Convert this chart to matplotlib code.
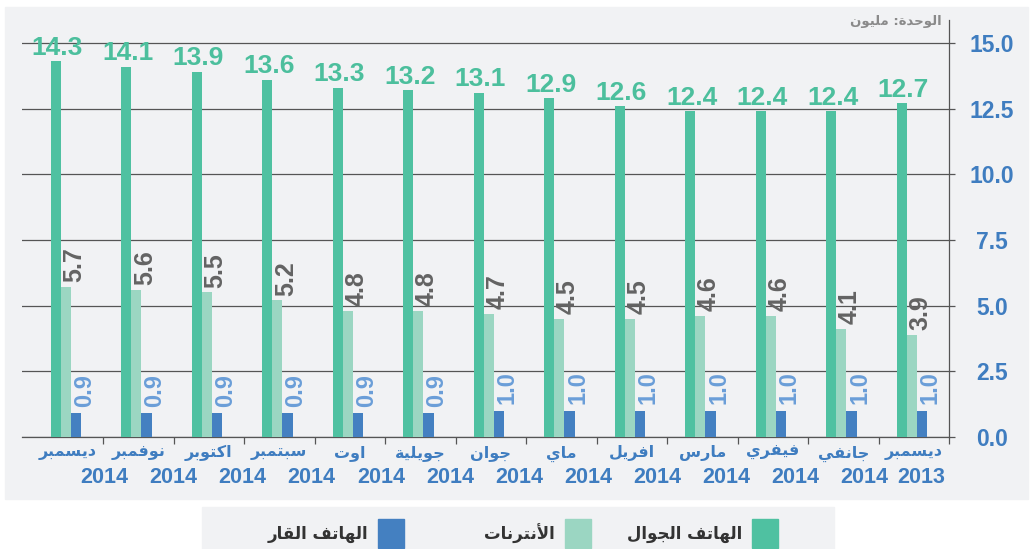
import numpy as np
import matplotlib
matplotlib.use("Agg")
import matplotlib.pyplot as plt
from matplotlib.patches import Rectangle

# data (right-to-left time order drawn left to right)
months = ["ديسمبر", "نوفمبر", "اكتوبر", "سبتمبر", "اوت", "جويلية", "جوان",
          "ماي", "افريل", "مارس", "فيفري", "جانفي", "ديسمبر"]
years = ["2014"] * 12 + ["2013"]
mobile = [14.3, 14.1, 13.9, 13.6, 13.3, 13.2, 13.1, 12.9, 12.6, 12.4, 12.4, 12.4, 12.7]
internet = [5.7, 5.6, 5.5, 5.2, 4.8, 4.8, 4.7, 4.5, 4.5, 4.6, 4.6, 4.1, 3.9]
fixed = [0.9, 0.9, 0.9, 0.9, 0.9, 0.9, 1.0, 1.0, 1.0, 1.0, 1.0, 1.0, 1.0]
series_names = ["الهاتف الجوال", "الأنترنات", "الهاتف القار"]
unit_text = "الوحدة: مليون"
yticks = [0, 2.5, 5, 7.5, 10, 12.5, 15]

GREEN, LIGHT, BLUE = "#4fc1a1", "#9bd6c2", "#4480c1"
LBL_COLORS = ["#4cbf9d", "#636363", "#6a9ed8"]
AXIS_BLUE = "#3f7dc0"
PANEL = "#f1f2f4"

# minimal arabic shaping (presentation forms) since matplotlib has no bidi
FORMS = {'ا': (0xFE8D, False), 'أ': (0xFE83, False), 'ب': (0xFE8F, True),
         'ة': (0xFE93, False), 'ت': (0xFE95, True), 'ج': (0xFE9D, True),
         'ح': (0xFEA1, True), 'د': (0xFEA9, False), 'ر': (0xFEAD, False),
         'س': (0xFEB1, True), 'ف': (0xFED1, True), 'ق': (0xFED5, True),
         'ك': (0xFED9, True), 'ل': (0xFEDD, True), 'م': (0xFEE1, True),
         'ن': (0xFEE5, True), 'ه': (0xFEE9, True), 'و': (0xFEED, False),
         'ي': (0xFEF1, True)}


def shape(s):
    toks = []
    i = 0
    while i < len(s):
        if s[i] == 'ل' and i + 1 < len(s) and s[i + 1] in ('ا', 'أ'):
            toks.append(('LA', s[i + 1]))
            i += 2
        else:
            toks.append(s[i])
            i += 1
    out = []
    for k, t in enumerate(toks):
        prev = toks[k - 1] if k > 0 else None
        nxt = toks[k + 1] if k + 1 < len(toks) else None
        jp = isinstance(prev, str) and prev in FORMS and FORMS[prev][1]
        if isinstance(t, tuple):
            base = 0xFEFB if t[1] == 'ا' else 0xFEF7
            out.append(chr(base + (1 if jp else 0)))
            continue
        if t not in FORMS:
            out.append(t)
            continue
        start, dual = FORMS[t]
        jn = dual and nxt is not None and (isinstance(nxt, tuple) or nxt in FORMS)
        if jp and jn:
            cp = start + 3
        elif jp:
            cp = start + 1
        elif jn:
            cp = start + 2
        else:
            cp = start
        out.append(chr(cp))
    return ''.join(reversed(out))


W, H = 1033, 549
fx = lambda x: x / W
fy = lambda y: 1 - y / H

fig = plt.figure(figsize=(W / 100, H / 100), dpi=100)
fig.patches.append(Rectangle((fx(5), fy(499)), fx(1028) - fx(5), fy(7) - fy(499),
                             transform=fig.transFigure, color=PANEL, zorder=-2))
fig.patches.append(Rectangle((fx(202), 0), fx(834) - fx(202), fy(507),
                             transform=fig.transFigure, color=PANEL, zorder=-2))

ax = fig.add_axes([fx(22), fy(437), fx(949) - fx(22), (437 - 20) / H])
ax.set_facecolor('none')

x = np.arange(len(months))
w = 0.142
shift = -0.025
num_font = 'Liberation Sans'
ar_font = 'DejaVu Sans'

ax.bar(x + shift - w, mobile, w, color=GREEN, zorder=3)
ax.bar(x + shift, internet, w, color=LIGHT, zorder=3)
ax.bar(x + shift + w, fixed, w, color=BLUE, zorder=3)

for xi, v in zip(x + shift, mobile):
    ax.annotate(f'{v:.1f}', (xi - w, v), xytext=(1, 1), textcoords='offset points',
                ha='center', va='bottom', fontsize=19, fontweight='bold',
                color=LBL_COLORS[0], family=num_font, zorder=4)
for xi, v in zip(x + shift, internet):
    ax.annotate(f'{v:.1f}', (xi, v), xytext=(6, 3.5), textcoords='offset points',
                ha='center', va='bottom', rotation=90, fontsize=18, fontweight='bold',
                color=LBL_COLORS[1], family=num_font, zorder=4)
for xi, v in zip(x + shift, fixed):
    ax.annotate(f'{v:.1f}', (xi + w, v), xytext=(6, 4.5), textcoords='offset points',
                ha='center', va='bottom', rotation=90, fontsize=17, fontweight='bold',
                color=LBL_COLORS[2], family=num_font, zorder=4)

ax.set_xlim(-0.649, len(months) - 0.5)
ax.set_ylim(0, 15.87)

# axes styling
for s in ['left', 'top']:
    ax.spines[s].set_visible(False)
for s in ['right', 'bottom']:
    ax.spines[s].set_color('#555555')
    ax.spines[s].set_linewidth(0.9)
ax.grid(axis='y', color='#555555', lw=0.9, zorder=0)
ax.set_axisbelow(True)

ax.yaxis.tick_right()
ax.set_yticks(yticks)
ax.set_yticklabels([f'{v:.1f}' for v in yticks])
ax.tick_params(axis='y', length=4, width=0.9, color='#555555', pad=27)
for lab in ax.get_yticklabels():
    lab.set_ha('center')
    lab.set_fontsize(16.5)
    lab.set_fontweight('bold')
    lab.set_color(AXIS_BLUE)
    lab.set_family(num_font)

ax.set_xticks(np.append(x[:-1] + 0.5, len(months) - 0.5))
ax.set_xticklabels([])
ax.tick_params(axis='x', which='major', length=5, width=0.9, color='#555555')
ax.set_xticks(x, minor=True)
ax.set_xticklabels([shape(m) for m in months], minor=True)
ax.tick_params(axis='x', which='minor', length=0, pad=6)
for lab in ax.get_xticklabels(minor=True):
    lab.set_fontsize(11.5)
    lab.set_fontweight('bold')
    lab.set_color(AXIS_BLUE)
    lab.set_family(ar_font)

# year row (second line of each category label, shifted like the original)
for i, yr in enumerate(years):
    if i == len(years) - 1:
        ax.annotate(yr, (len(months) - 0.5, 0), xycoords=('data', 'axes fraction'),
                    xytext=(-3, -29.5), textcoords='offset points', ha='right', va='center',
                    fontsize=15.5, fontweight='bold', color=AXIS_BLUE, family=num_font)
    else:
        ax.annotate(yr, (i + 0.52 - 0.02 * i, 0), xycoords=('data', 'axes fraction'),
                    xytext=(0, -29.5), textcoords='offset points', ha='center', va='center',
                    fontsize=15.5, fontweight='bold', color=AXIS_BLUE, family=num_font)

fig.text(fx(942), fy(22), shape(unit_text), ha='right', va='center', color='#8a8a8a',
         fontsize=9.5, fontweight='bold', family=ar_font)

# legend, drawn right to left like the original
sq_left = [752, 565, 378]
for name, col, left in zip(series_names, [GREEN, LIGHT, BLUE], sq_left):
    fig.patches.append(Rectangle((fx(left), fy(548)), 26 / W, 29 / H,
                                 transform=fig.transFigure, color=col, zorder=1))
    fig.text(fx(left - 10), fy(534), shape(name), ha='right', va='center',
             color='#333333', fontsize=12, fontweight='bold', family=ar_font)

fig.savefig('out.png', dpi=100, facecolor='white')
